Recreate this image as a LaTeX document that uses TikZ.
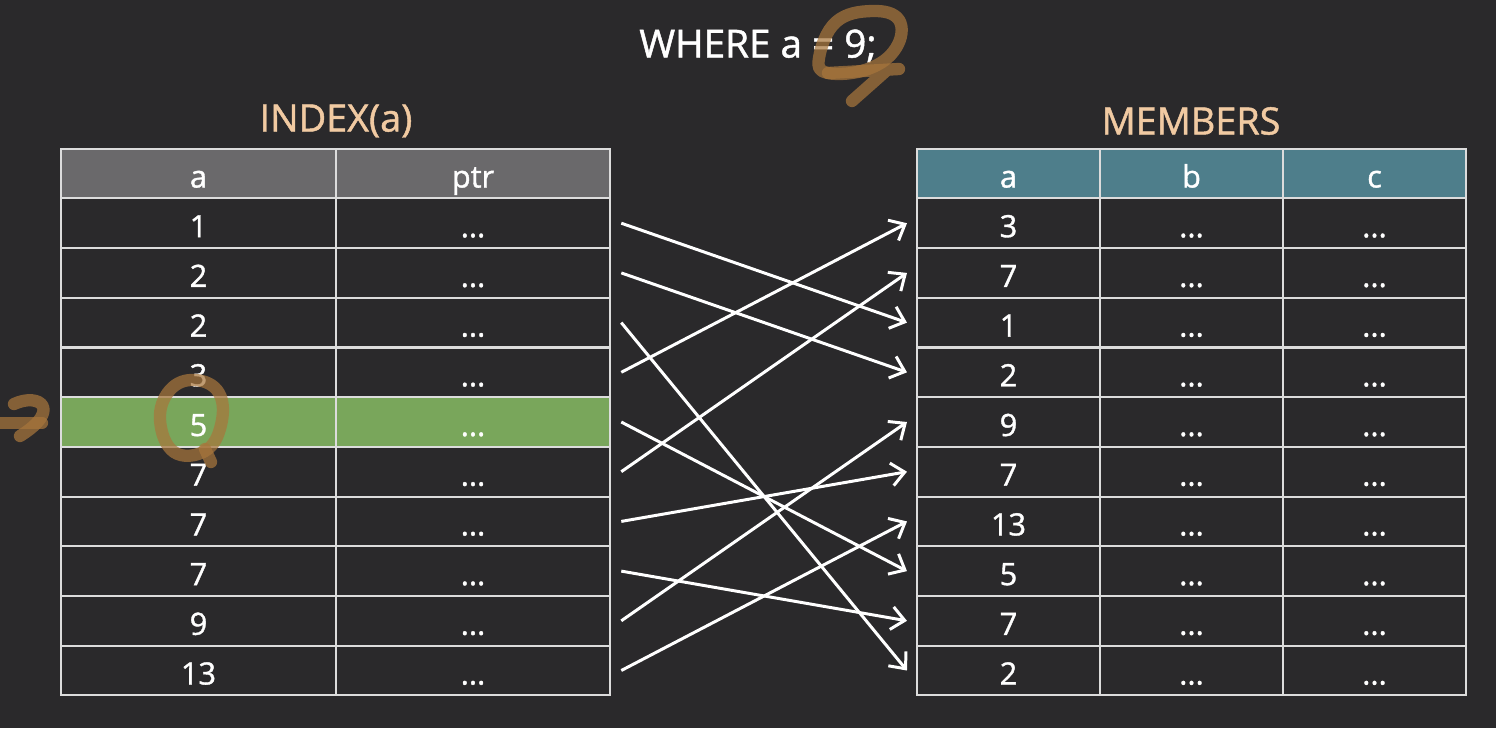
\documentclass[tikz,border=0pt]{standalone}
\usepackage{fontspec}
\setmainfont{Open Sans}
\newfontfamily\slidefont{Open Sans}[FakeBold=1.2]
\usepackage{tikz}
\usetikzlibrary{
	positioning,
	arrows.meta
}

\definecolor{bgdark}{HTML}{2A292B}
\definecolor{gridline}{HTML}{DCDCDC}
\definecolor{hdrgray}{HTML}{6A696B}
\definecolor{hdrteal}{HTML}{4E7E8B}
\definecolor{hitgreen}{HTML}{79A65B}
\definecolor{peach}{HTML}{F1CAA2}
\definecolor{marker}{HTML}{A8763C}

\tikzset{
	cell/.style={draw=gridline,line width=1.2pt,minimum height=0.994cm,inner sep=0pt,text height=0.56cm,text depth=0pt,text=white,font=\slidefont\fontsize{17.5}{20}\selectfont},
	idxcell/.style={cell,minimum width=5.49cm},
	tblcell/.style={cell,minimum width=3.66cm},
	heading/.style={font=\slidefont\fontsize{21.5}{25}\selectfont},
	ptrarrow/.style={white,line width=1.7pt,-{Straight Barb[length=7.5pt,width=13pt]}},
	scribble/.style={draw=marker,line width=7pt,line cap=round,line join=round,opacity=0.72}
}

\begin{document}
\begin{tikzpicture}[x=0.02cm,y=-0.02cm]
			
			\path[use as bounding box,fill=bgdark] (0,0) rectangle (1496,728);
			
			\node[heading,text=white,font=\slidefont\fontsize{22}{25}\selectfont] (query) at (758,46) {WHERE a = 9;};
			\node[heading,text=peach] (idxname) at (336,121) {INDEX(a)};
			\node[heading,text=peach] (tblname) at (1191,121) {MEMBERS};
			
			% index on a
			\node[idxcell,fill=hdrgray] (ia0) at (198.5,173.5) {a};
			\node[idxcell,fill=hdrgray] (ip0) at (473,173.5) {ptr};
			\foreach \v/\f [count=\k] in {1/bgdark,2/bgdark,2/bgdark,3/bgdark,5/hitgreen,7/bgdark,7/bgdark,7/bgdark,9/bgdark,13/bgdark}
			{
				\node[idxcell,fill=\f] (ia\k) at (198.5,{173.5+49.7*\k}) {\v};
				\node[idxcell,fill=\f] (ip\k) at (473,{173.5+49.7*\k}) {...};
			}
			
			% members table
			\node[tblcell,fill=hdrteal] (ma0) at (1008.5,173.5) {a};
			\node[tblcell,fill=hdrteal] (mb0) at (1191.5,173.5) {b};
			\node[tblcell,fill=hdrteal] (mc0) at (1374.5,173.5) {c};
			\foreach \v [count=\k] in {3,7,1,2,9,7,13,5,7,2}
			{
				\node[tblcell] (ma\k) at (1008.5,{173.5+49.7*\k}) {\v};
				\node[tblcell] (mb\k) at (1191.5,{173.5+49.7*\k}) {...};
				\node[tblcell] (mc\k) at (1374.5,{173.5+49.7*\k}) {...};
			}
			
			% pointers
			\foreach \s/\t in {1/3,2/4,3/10,4/1,5/8,6/2,7/6,8/9,9/5,10/7}
				\draw[ptrarrow] ([xshift=0.2cm]ip\s.east) -- ([xshift=-0.18cm]ma\t.west);
			
			% pen marks
			\draw[scribble] plot[smooth cycle,tension=0.7] coordinates {(819,58) (836,22) (872,11) (899,20) (896,48) (868,69) (828,73)};
			\draw[scribble] (828,73) -- (899,69) (887,70) -- (852,101);
			\draw[scribble] plot[smooth cycle,tension=0.7] coordinates {(160,420) (170,390) (195,380) (219,393) (221,425) (205,451) (174,452)};
			\draw[scribble] (205,449) -- (211,462);
			\draw[scribble] (0,423) -- (42,423);
			\draw[scribble] (14,404) .. controls (40,392) and (62,410) .. (20,436);
			
		\end{tikzpicture}
\end{document}
